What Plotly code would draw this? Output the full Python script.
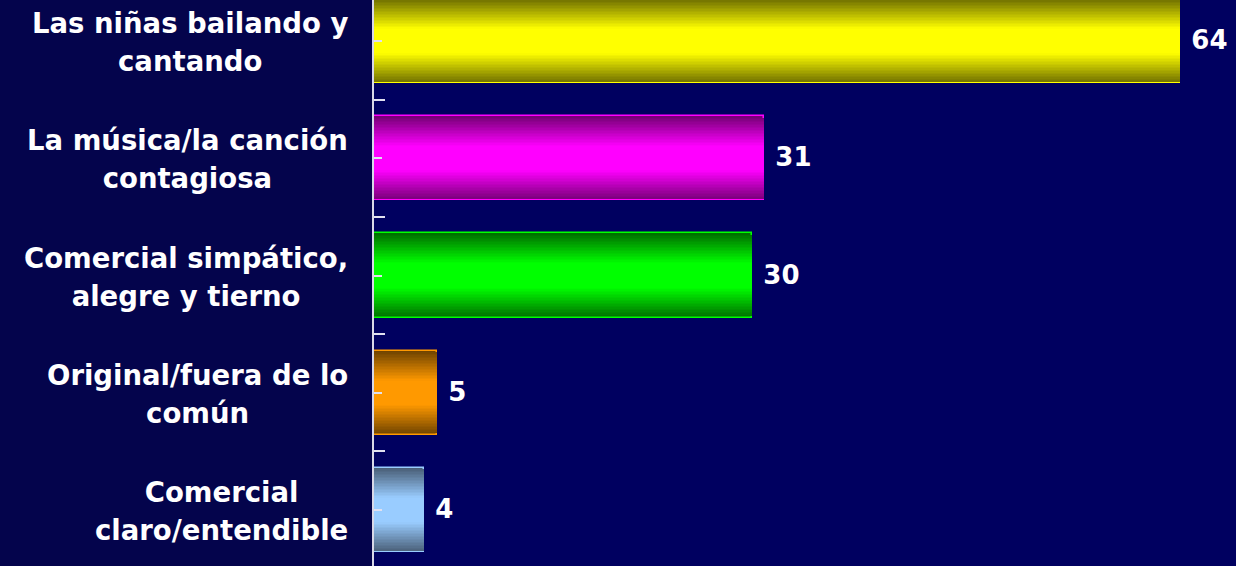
import plotly.graph_objects as go

# ---- data ----
label_top = ['Las niñas bailando y', 'La música/la canción', 'Comercial simpático,',
             'Original/fuera de lo', 'Comercial']
label_bottom = ['cantando', 'contagiosa', 'alegre y tierno', 'común', 'claro/entendible']
values = [64, 31, 30, 5, 4]

# bright (centre) and dark (edge) colour of each bar
bright = ['#ffff00', '#ff00ff', '#00ff00', '#ff9900', '#99ccff']
dark = ['#707000', '#780078', '#007000', '#704400', '#4a5f78']

# ---- helpers ----
def hex_rgb(h):
    h = h.lstrip('#')
    return [int(h[i:i + 2], 16) for i in (0, 2, 4)]

def mix(c1, c2, t):
    a, b = hex_rgb(c1), hex_rgb(c2)
    return 'rgb(%d,%d,%d)' % tuple(round(a[i] + (b[i] - a[i]) * t) for i in range(3))

pos = list(range(len(values)))
font_family = 'DejaVu Sans, Verdana, sans-serif'

fig = go.Figure()

# -- fake cylinder shading: nested bars getting brighter toward the centre -- #
layers = 28
bar_w = 0.72
for k in range(layers):
    t = min(1.0, k / (layers * 0.7))
    fig.add_trace(go.Bar(
        x=values, y=pos, orientation='h',
        width=bar_w * (1 - k / layers),
        marker=dict(color=[mix(d, b, t) for d, b in zip(dark, bright)],
                    line=dict(color=bright, width=1.5 if k == 0 else 0)),
        text=[' %d' % v for v in values] if k == 0 else None,
        textposition='outside' if k == 0 else 'none',
        textfont=dict(color='white', size=26, family=font_family, weight='bold'),
        cliponaxis=False, hoverinfo='skip', showlegend=False))

# -- category labels (two lines each, centred); bigger outer font = wider line spacing -- #
for i, (a, b) in enumerate(zip(label_top, label_bottom)):
    txt = "<span style='font-size:27.5px'>%s</span><br><span style='font-size:27.5px'>%s</span>" % (a, b)
    fig.add_annotation(x=0, xref='paper', y=i, yref='y', text=txt, showarrow=False,
                       xanchor='right', yanchor='middle', align='center', xshift=-24,
                       yshift=-1,
                       font=dict(color='white', size=29.5, family=font_family, weight='bold'))

fig.update_layout(
    width=1236, height=566, barmode='overlay', bargap=0,
    paper_bgcolor='#04044c', plot_bgcolor='#000060',
    margin=dict(l=374, r=0, t=0, b=0),
    font=dict(family=font_family, color='white'))

fig.update_xaxes(range=[0, 68.45], showgrid=False, zeroline=False, showticklabels=False,
                 ticks='', showline=False)
fig.update_yaxes(range=[4.478, -0.35], showgrid=False, zeroline=False,
                 tickvals=pos, showticklabels=False, ticks='inside', ticklen=8,
                 tickcolor='#e0e0f0', tickwidth=1.5,
                 minor=dict(tickvals=[p + 0.5 for p in pos[:-1]], ticks='inside', ticklen=11,
                            tickcolor='#e0e0f0', tickwidth=1.5),
                 showline=True, linecolor='#d8d8e8', linewidth=1.5)

fig.write_html('out.html', config={'displayModeBar': False},
               post_script="document.body.style.margin='0';")
